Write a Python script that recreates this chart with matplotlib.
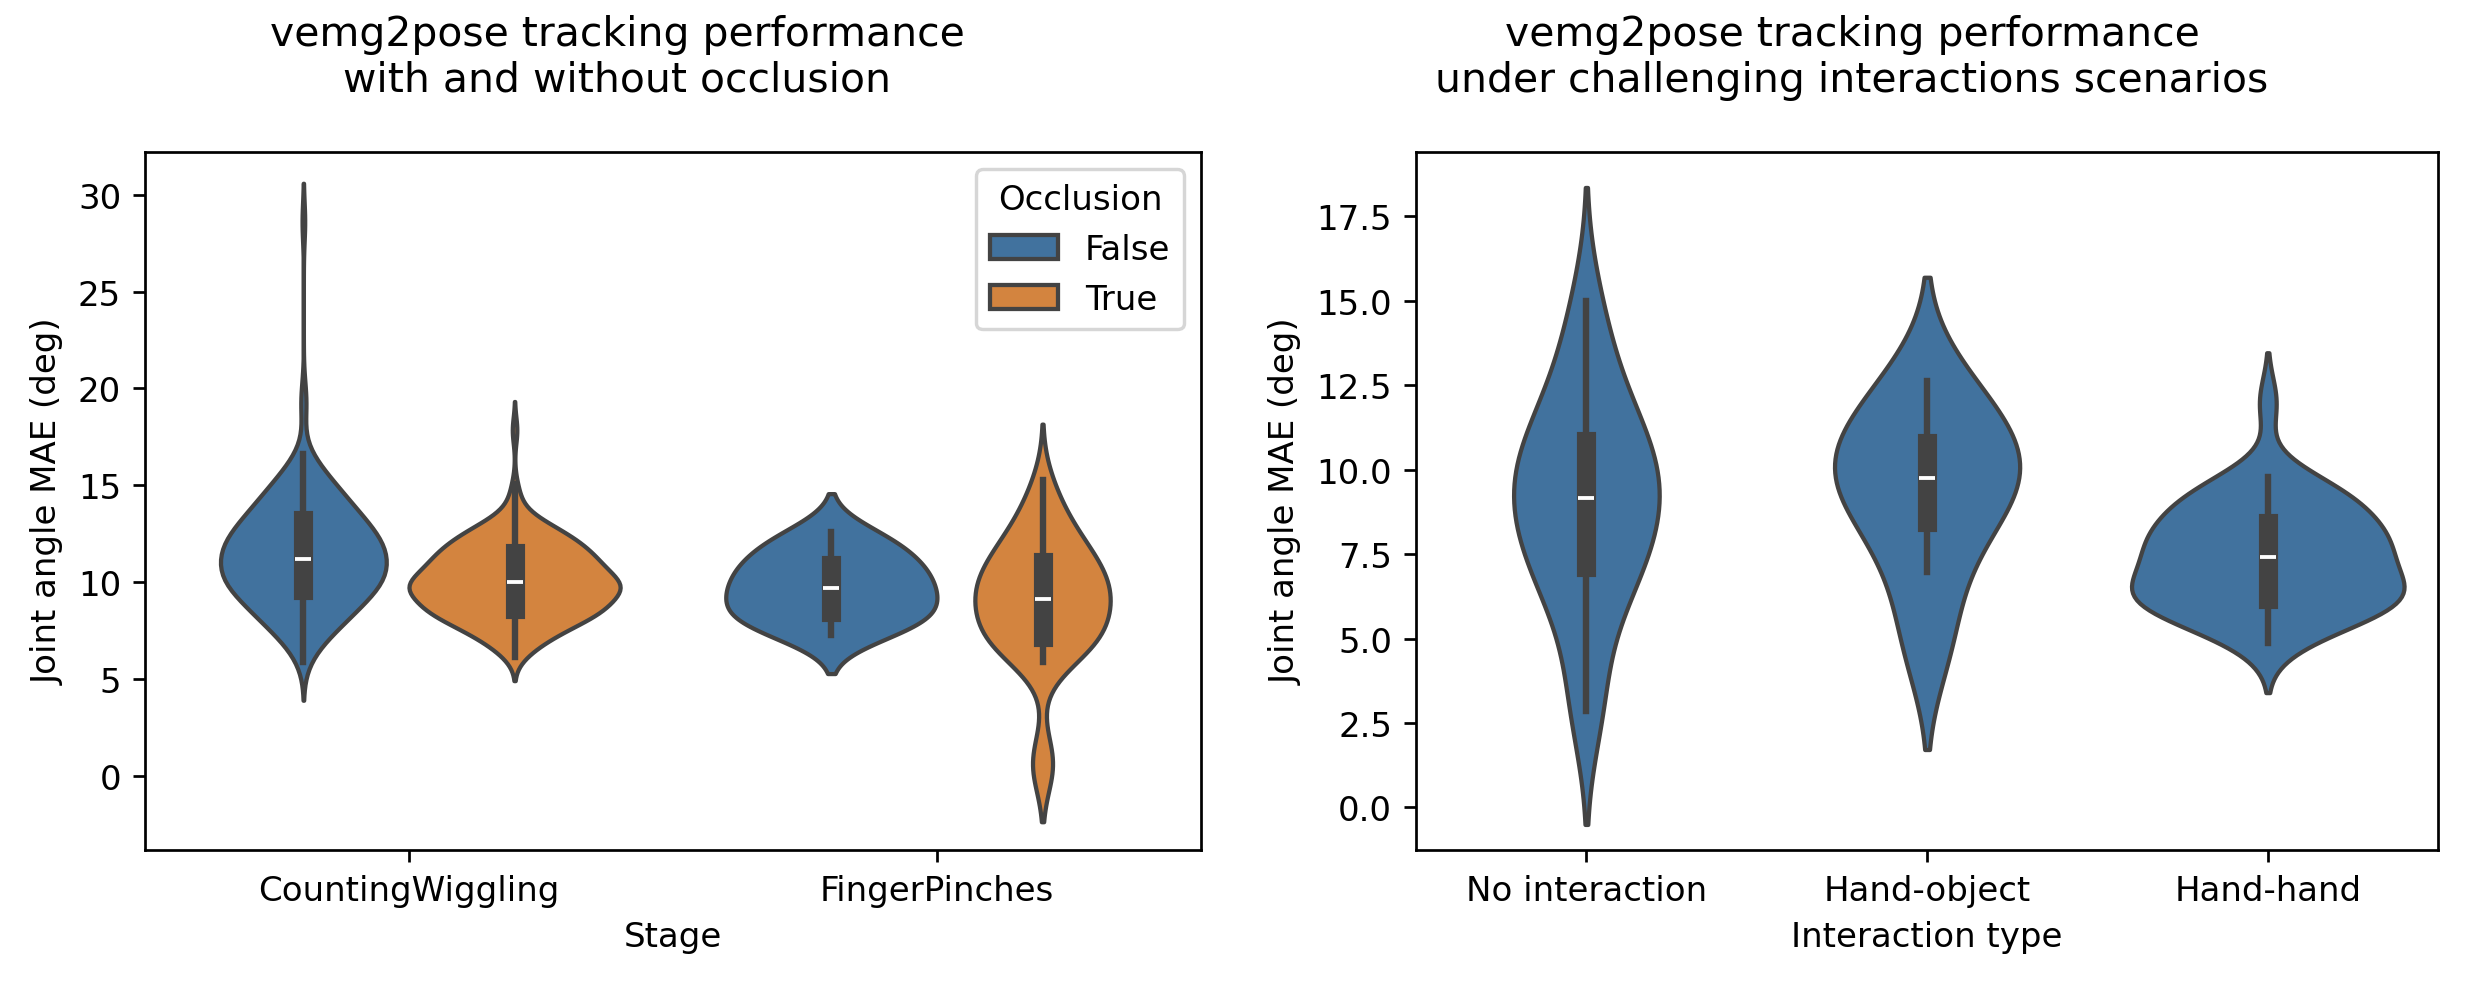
import numpy as np
import pandas as pd
import matplotlib
matplotlib.use("Agg")
import matplotlib.pyplot as plt
import seaborn as sns

# ---- left panel: MAE per trial (deg), binned value -> number of trials ----
cw_false_vals = [5.9, 6.5, 7.0, 7.5, 8.0, 8.5, 9.0, 9.6, 10.1, 10.6, 11.2, 11.7, 12.2,
                 12.7, 13.2, 13.7, 14.2, 14.7, 15.2, 15.7, 16.2, 16.64, 19.0, 19.6, 28.6]
cw_false_counts = [1, 2, 3, 5, 7, 8, 10, 13, 14, 14, 14, 14, 12,
                   11, 10, 8, 7, 6, 5, 3, 2, 1, 1, 1, 1]

cw_true_vals = [6.15, 6.65, 7.15, 7.65, 8.15, 8.6, 9.1, 9.6, 10.0, 10.5, 11.0, 11.5,
                12.0, 12.55, 13.1, 13.6, 14.15, 14.65, 15.05, 17.6, 18.1]
cw_true_counts = [3, 6, 10, 15, 20, 24, 26, 27, 27, 25, 23, 21,
                  19, 16, 9, 3, 2, 1, 1, 1, 1]

fp_false_vals = [7.29, 7.7, 8.1, 8.45, 8.85, 9.25, 9.69, 10.1, 10.5, 10.9, 11.43, 12.0, 12.57]
fp_false_counts = [1] * 13

fp_true_vals = [0.5, 0.62, 0.7, 5.88, 6.3, 6.6, 6.91, 7.4, 7.9, 8.4, 8.8, 9.14, 9.6,
                10.1, 10.6, 11.03, 11.6, 12.2, 12.8, 13.5, 14.1, 14.75, 15.3]
fp_true_counts = [1, 1, 2, 1, 2, 3, 5, 3, 3, 3, 3, 4, 4,
                  4, 3, 4, 3, 3, 2, 2, 1, 1, 1]

# ---- right panel: MAE per session (deg) ----
no_interaction = [2.85, 3.4, 5.6, 6.4, 6.9, 7.13, 7.6, 8.1, 8.5, 8.9, 9.17, 9.5, 9.8,
                  10.1, 10.5, 10.84, 11.2, 11.8, 12.6, 13.7, 15.0]
hand_object = [4.8, 6.97, 8.46, 9.3, 9.76, 10.2, 10.8, 11.6, 12.61]
hand_hand = [4.86, 5.2, 5.4, 5.6, 5.75, 5.85, 5.95, 6.0, 6.05, 6.12, 6.18, 6.3, 6.4,
             6.5, 6.6, 6.7, 6.8, 6.9, 7.05, 7.35, 7.45, 7.5, 7.6, 7.7, 7.8, 7.9, 8.0,
             8.15, 8.3, 8.4, 8.5, 8.7, 8.85, 9.0, 9.15, 9.3, 9.45, 9.6, 9.78, 12.0]

stages = ["CountingWiggling", "FingerPinches"]
interactions = ["No interaction", "Hand-object", "Hand-hand"]

blue = "#41729e"
orange = "#d3843f"


def expand(vals, counts, stage, occl):
    v = np.repeat(vals, counts)
    return pd.DataFrame({"Stage": stage, "Occlusion": occl, "mae": v})


df_occ = pd.concat([
    expand(cw_false_vals, cw_false_counts, "CountingWiggling", False),
    expand(cw_true_vals, cw_true_counts, "CountingWiggling", True),
    expand(fp_false_vals, fp_false_counts, "FingerPinches", False),
    expand(fp_true_vals, fp_true_counts, "FingerPinches", True),
], ignore_index=True)

df_int = pd.DataFrame({
    "Interaction type": (["No interaction"] * len(no_interaction)
                         + ["Hand-object"] * len(hand_object)
                         + ["Hand-hand"] * len(hand_hand)),
    "mae": no_interaction + hand_object + hand_hand,
})

fig = plt.figure(figsize=(2470 / 245, 992 / 245), dpi=245)
ax1 = fig.add_axes([0.0587, 0.1421, 0.4275, 0.7036])
ax2 = fig.add_axes([0.5733, 0.1421, 0.4138, 0.7036])

sns.violinplot(data=df_occ, x="Stage", y="mae", hue="Occlusion",
               order=stages, hue_order=[False, True],
               palette=[blue, orange], saturation=1, ax=ax1)
ax1.set_ylim(-3.82, 32.2)
ax1.set_ylabel("Joint angle MAE (deg)")
# titles sit over each half of the figure, not over the axes
ax1.set_title("vemg2pose tracking performance\nwith and without occlusion", pad=18, x=0.447)
sns.move_legend(ax1, "upper right", title="Occlusion")

sns.violinplot(data=df_int, x="Interaction type", y="mae", order=interactions,
               color=blue, saturation=1, ax=ax2)
ax2.set_ylim(-1.26, 19.4)
ax2.set_ylabel("Joint angle MAE (deg)")
ax2.set_title("vemg2pose tracking performance\nunder challenging interactions scenarios",
              pad=18, x=0.4266)

fig.savefig("out.png", dpi=245)
